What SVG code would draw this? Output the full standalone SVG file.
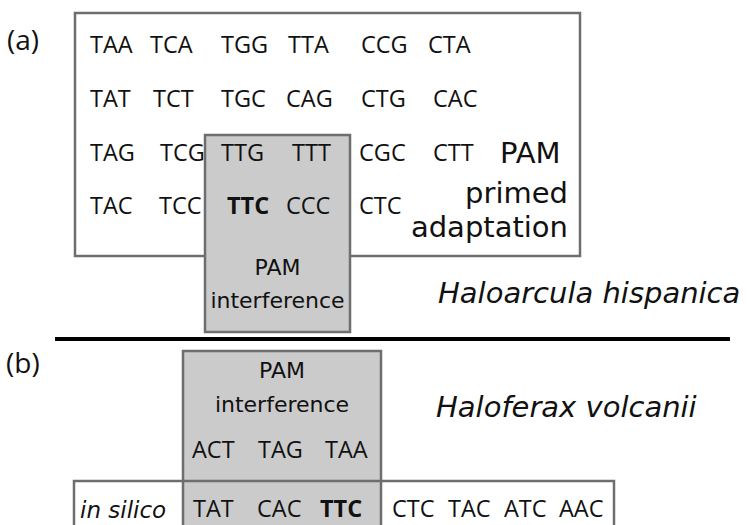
<svg xmlns="http://www.w3.org/2000/svg" width="747" height="525" viewBox="0 0 747 525">
<style>
.box{fill:#ffffff;stroke:#6e6e6e;stroke-width:2.5}
.gray{fill:#cbcbcb;stroke:#6e6e6e;stroke-width:2.5}
.frame{fill:none;stroke:#6e6e6e;stroke-width:2.5}
.cod{font-family:"Open Sans","Noto Sans",sans-serif;font-size:23.5px;fill:#111}
.b{font-weight:bold}
.lbl{font-family:"DejaVu Sans",sans-serif;fill:#111}
.it{font-family:"DejaVu Sans",sans-serif;font-style:italic;fill:#111}
.pl{font-family:"Open Sans","Noto Sans",sans-serif;font-size:28px;fill:#111}
</style>
<rect width="747" height="525" fill="#ffffff"/>
<g id="panel-a-label"><text class="pl" x="7" y="50">(a)</text></g>
<g id="primed-adaptation">
<rect class="box" x="75" y="13" width="505" height="243"/>
<text class="cod" x="90" y="53">TAA</text><text class="cod" x="150" y="53">TCA</text><text class="cod" x="221" y="53">TGG</text><text class="cod" x="288" y="53">TTA</text><text class="cod" x="361" y="53">CCG</text><text class="cod" x="428" y="53">CTA</text>
<text class="cod" x="90" y="107">TAT</text><text class="cod" x="153" y="107">TCT</text><text class="cod" x="221" y="107">TGC</text><text class="cod" x="286" y="107">CAG</text><text class="cod" x="361" y="107">CTG</text><text class="cod" x="433" y="107">CAC</text>
<text class="cod" x="90" y="161">TAG</text><text class="cod" x="160" y="161">TCG</text>
<text class="cod" x="359" y="161">CGC</text><text class="cod" x="433" y="161">CTT</text>
<text class="cod" x="90" y="214">TAC</text><text class="cod" x="159" y="214">TCC</text>
<text class="cod" x="359" y="214">CTC</text>
<text class="lbl" x="500" y="163" font-size="29">PAM</text>
<text class="lbl" x="568" y="203" font-size="29" text-anchor="end">primed</text>
<text class="lbl" x="568" y="237" font-size="29" text-anchor="end">adaptation</text>
</g>
<g id="interference-a">
<rect class="gray" x="205" y="135" width="145" height="197"/>
<text class="cod" x="221" y="161">TTG</text><text class="cod" x="292" y="161">TTT</text>
<text class="cod b" x="227" y="214">TTC</text><text class="cod" x="286" y="214">CCC</text>
<text class="lbl" x="277.5" y="275" font-size="22" text-anchor="middle">PAM</text>
<text class="lbl" x="277.5" y="308" font-size="22" text-anchor="middle">interference</text>
</g>
<g id="species-a"><text class="it" x="438" y="303" font-size="29">Haloarcula hispanica</text></g>
<g id="separator"><line x1="55" y1="339" x2="730" y2="339" stroke="#000" stroke-width="4"/></g>
<g id="panel-b-label"><text class="pl" x="6" y="373">(b)</text></g>
<g id="interference-b">
<rect class="gray" x="183" y="351" width="198" height="190"/>
<text class="lbl" x="282" y="378" font-size="22" text-anchor="middle">PAM</text>
<text class="lbl" x="282" y="412" font-size="22" text-anchor="middle">interference</text>
<text class="cod" x="192" y="458">ACT</text><text class="cod" x="258" y="458">TAG</text><text class="cod" x="325" y="458">TAA</text>
</g>
<g id="in-silico">
<rect class="frame" x="74" y="481" width="540" height="60"/>
<text class="it" x="80" y="518" font-size="23">in silico</text>
<text class="cod" x="193" y="517" font-size="22">TAT</text><text class="cod" x="257" y="517" font-size="22">CAC</text><text class="cod b" x="320" y="517">TTC</text>
<text class="cod" x="392" y="517" font-size="22">CTC</text><text class="cod" x="448" y="517" font-size="22">TAC</text><text class="cod" x="504" y="517" font-size="22">ATC</text><text class="cod" x="559" y="517" font-size="22">AAC</text>
</g>
<g id="species-b"><text class="it" x="436" y="417" font-size="29">Haloferax volcanii</text></g>
</svg>
